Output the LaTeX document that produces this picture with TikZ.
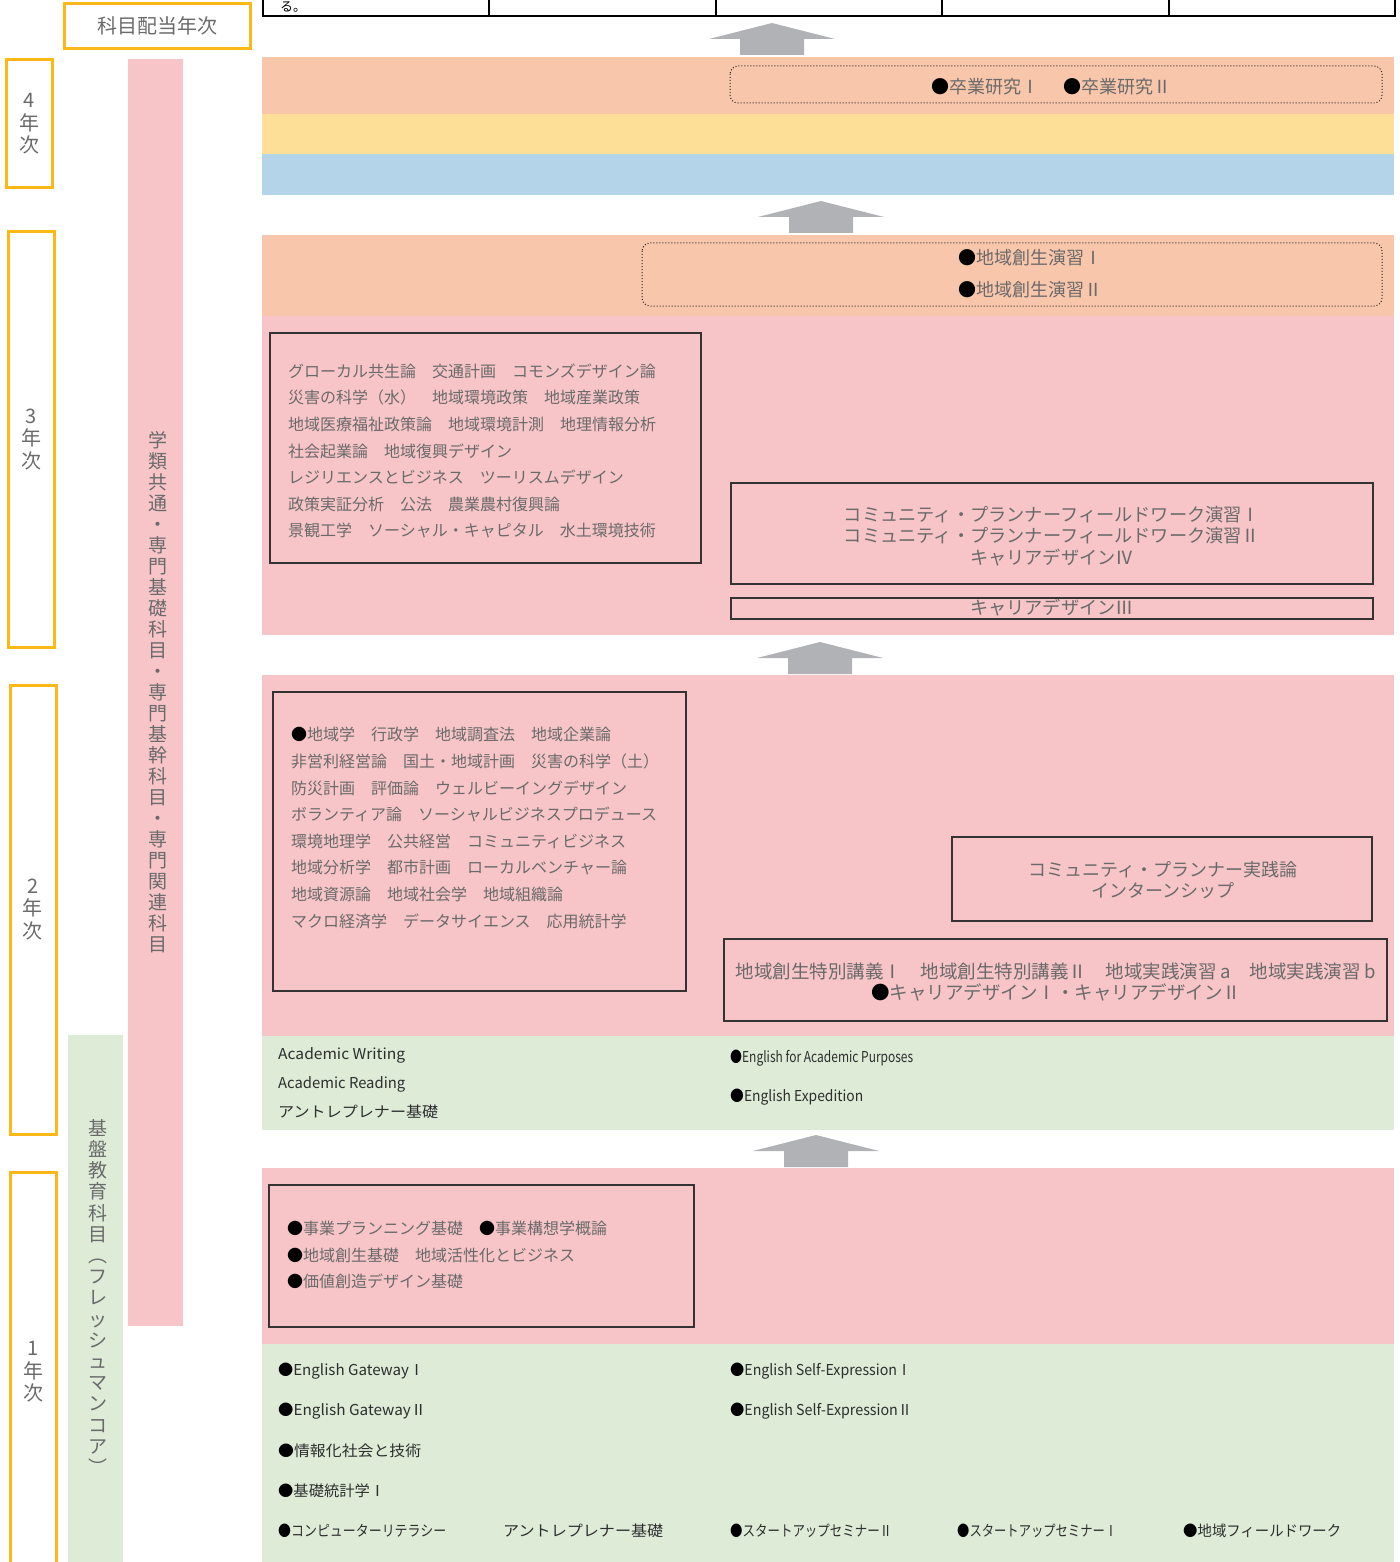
\documentclass[tikz,border=0pt]{standalone}
\usepackage{fontspec}
\setmainfont{Noto Sans CJK JP}
\usepackage{graphicx}
\definecolor{pk}{HTML}{F7C5C8}
\definecolor{org}{HTML}{F8C6AA}
\definecolor{yel}{HTML}{FDDF97}
\definecolor{blu}{HTML}{B4D4EA}
\definecolor{grn}{HTML}{DDEBD7}
\definecolor{gold}{HTML}{FBB817}
\definecolor{arr}{HTML}{B1B2B6}
\definecolor{txg}{HTML}{6A6A6A}
\definecolor{txd}{HTML}{2E2E2E}
\newcommand{\fitw}[2]{\resizebox{#1pt}{\height}{#2}}
\newcommand{\bk}{\textcolor{black}{●}}
\newcommand{\uparr}[2]{\fill[arr] ({#1-63},{#2+16}) -- (#1,#2) -- ({#1+63},{#2+16}) -- ({#1+32},{#2+16}) -- ({#1+32},{#2+32}) -- ({#1-32},{#2+32}) -- ({#1-32},{#2+16}) -- cycle;}
\begin{document}
\begin{tikzpicture}[x=1pt,y=-1pt,
  yearbox/.style={draw=gold, line width=3pt, inner sep=0pt, text=txg, align=center, font=\fontsize{20}{22.5}\selectfont},
  cbox/.style={draw=black!80, line width=1.3pt},
  dbox/.style={draw=black!85, dotted, line width=1pt, rounded corners=8pt},
  ptext/.style={inner sep=0pt, text=txg, align=left, font=\fontsize{16}{26.6}\selectfont},
  rtext/.style={inner sep=0pt, text=txg, align=center, font=\fontsize{18.2}{21.5}\selectfont},
  otext/.style={inner sep=0pt, text=txg, anchor=west, font=\fontsize{18}{18}\selectfont},
  gtext/.style={inner sep=0pt, text=txd, anchor=west, font=\fontsize{15}{15}\selectfont},
  vtext/.style={inner sep=0pt, text=txg, align=center}
]
\useasboundingbox (0,0) rectangle (1399,1562);

% bands
\fill[org] (262,57) rectangle (1394,114);
\fill[yel] (262,114) rectangle (1394,154);
\fill[blu] (262,154) rectangle (1394,195);
\fill[org] (262,235) rectangle (1394,316);
\fill[pk] (262,316) rectangle (1394,635);
\fill[pk] (262,675) rectangle (1394,1036);
\fill[grn] (262,1036) rectangle (1394,1130);
\fill[pk] (262,1168) rectangle (1394,1344);
\fill[grn] (262,1344) rectangle (1394,1562);

% vertical bars
\fill[pk] (128,59) rectangle (183,1326);
\fill[grn] (68,1035) rectangle (123,1562);

% top table fragment
\draw[line width=2.5pt] (262,16) -- (1396,16);
\foreach \xx in {263,489,716,942,1169,1395} \draw[line width=2.5pt] (\xx,-3) -- (\xx,16);
\node[anchor=base west, inner sep=0pt, font=\fontsize{13}{13}\selectfont] (ru) at (280,12) {る。};

% header and year boxes
\node[yearbox, minimum width=186pt, minimum height=45pt] (hdr) at (157,26) {科目配当年次};
\node[yearbox, minimum width=45.5pt, minimum height=128.5pt] (y4) at (29.25,123.75) {4\\年\\次};
\node[yearbox, minimum width=46pt, minimum height=415pt] (y3) at (31,439.5) {3\\年\\次};
\node[yearbox, minimum width=46pt, minimum height=449pt] (y2) at (33,909.5) {2\\年\\次};
\node[yearbox, minimum width=46pt, minimum height=400pt] (y1) at (33.5,1372) {1\\年\\次};

% vertical bar texts
\node[vtext, font=\fontsize{19}{21.0}\selectfont] (vpk) at (158,692) {学\\類\\共\\通\\・\\専\\門\\基\\礎\\科\\目\\・\\専\\門\\基\\幹\\科\\目\\・\\専\\門\\関\\連\\科\\目};
\node[vtext, font=\fontsize{19}{21.2}\selectfont] (vgr) at (98,1297) {基\\盤\\教\\育\\科\\目\\︵\\フ\\レ\\ッ\\シ\\ュ\\マ\\ン\\コ\\ア\\︶};

% arrows
\uparr{772}{23}
\uparr{821}{201}
\uparr{820}{642}
\uparr{816}{1135}

% 4th year
\draw[dbox] (730,66) rectangle (1382,103);
\node[otext] (sotsu) at (931,87) {\bk 卒業研究Ⅰ\hspace{24pt}\bk 卒業研究Ⅱ};

% 3rd year orange
\draw[dbox] (642,243) rectangle (1382,306);
\node[otext] (ens1) at (958,258) {\bk 地域創生演習Ⅰ};
\node[otext] (ens2) at (958,290) {\bk 地域創生演習Ⅱ};

% 3rd year pink
\draw[cbox] (270,333) rectangle (701,563);
\node[ptext, anchor=west] (t3) at (288,451) {グローカル共生論　交通計画　コモンズデザイン論\\災害の科学（水）　地域環境政策　地域産業政策\\地域医療福祉政策論　地域環境計測　地理情報分析\\社会起業論　地域復興デザイン\\レジリエンスとビジネス　ツーリスムデザイン\\政策実証分析　公法　農業農村復興論\\景観工学　ソーシャル・キャピタル　水土環境技術};
\draw[cbox] (731,483) rectangle (1373,584);
\node[rtext] (cp3) at (1052,536) {コミュニティ・プランナーフィールドワーク演習Ⅰ\\コミュニティ・プランナーフィールドワーク演習Ⅱ\\キャリアデザインⅣ};
\draw[cbox] (731,598) rectangle (1373,619);
\node[rtext] (cd3) at (1052,608) {キャリアデザインⅢ};

% 2nd year pink
\draw[cbox] (273,692) rectangle (686,991);
\node[ptext, anchor=west] (t2) at (291,828) {\bk 地域学　行政学　地域調査法　地域企業論\\非営利経営論　国土・地域計画　災害の科学（土）\\防災計画　評価論　ウェルビーイングデザイン\\ボランティア論　ソーシャルビジネスプロデュース\\環境地理学　公共経営　コミュニティビジネス\\地域分析学　都市計画　ローカルベンチャー論\\地域資源論　地域社会学　地域組織論\\マクロ経済学　データサイエンス　応用統計学};
\draw[cbox] (952,837) rectangle (1372,921);
\node[rtext, font=\fontsize{18}{20.5}\selectfont] (cp2) at (1163,880) {コミュニティ・プランナー実践論\\インターンシップ};
\draw[cbox] (724,939) rectangle (1387,1021);
\node[rtext, font=\fontsize{18.5}{21}\selectfont] (tk2) at (1056,982) {地域創生特別講義Ⅰ　地域創生特別講義Ⅱ　地域実践演習 a　地域実践演習 b\\\bk キャリアデザインⅠ・キャリアデザインⅡ};

% 2nd year green
\node[gtext] (aw) at (278,1055) {\fitw{127}{Academic Writing}};
\node[gtext] (ar) at (278,1084) {\fitw{127}{Academic Reading}};
\node[gtext] (ak2) at (278,1112) {\fitw{160}{アントレプレナー基礎}};
\node[gtext] (eap) at (730,1058) {\fitw{183}{\bk English for Academic Purposes}};
\node[gtext] (eex) at (730,1097) {\fitw{133}{\bk English Expedition}};

% 1st year pink
\draw[cbox] (269,1185) rectangle (694,1327);
\node[ptext, anchor=west] (t1) at (287,1255) {\bk 事業プランニング基礎　\bk 事業構想学概論\\\bk 地域創生基礎　地域活性化とビジネス\\\bk 価値創造デザイン基礎};

% 1st year green
\node[gtext] (eg1) at (278,1371) {\fitw{146}{\bk English GatewayⅠ}};
\node[gtext] (eg2) at (278,1411) {\fitw{148}{\bk English GatewayⅡ}};
\node[gtext] (jh) at (278,1451) {\fitw{143}{\bk 情報化社会と技術}};
\node[gtext] (kt) at (278,1491) {\fitw{107}{\bk 基礎統計学Ⅰ}};
\node[gtext] (cl) at (278,1531) {\fitw{168}{\bk コンピューターリテラシー}};
\node[gtext] (ak1) at (503,1531) {\fitw{160}{アントレプレナー基礎}};
\node[gtext] (es1) at (730,1371) {\fitw{181}{\bk English Self-ExpressionⅠ}};
\node[gtext] (es2) at (730,1411) {\fitw{182}{\bk English Self-ExpressionⅡ}};
\node[gtext] (su2) at (730,1531) {\fitw{162}{\bk スタートアップセミナーⅡ}};
\node[gtext] (su1) at (957,1531) {\fitw{160}{\bk スタートアップセミナーⅠ}};
\node[gtext] (fw) at (1183,1531) {\fitw{158}{\bk 地域フィールドワーク}};
\end{tikzpicture}
\end{document}
